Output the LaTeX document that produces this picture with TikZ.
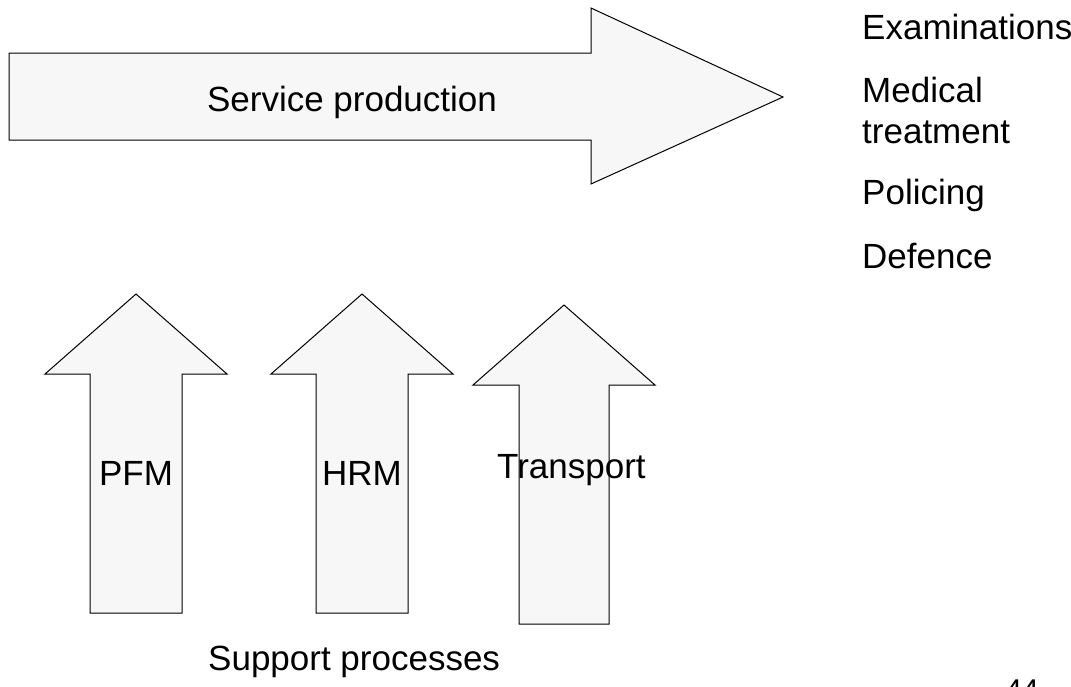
\documentclass[tikz,border=0pt]{standalone}
\usepackage{fontspec}
\setmainfont{Liberation Sans}
\begin{document}
\begin{tikzpicture}[x=1pt,y=-1pt,
  arrowshape/.style={draw=black,fill=gray!6,line width=1pt,line join=miter},
  lbl/.style={inner sep=0pt,font=\fontsize{35}{42}\selectfont},
  ]
\useasboundingbox (0,0) rectangle (1071,686);
\clip (0,0) rectangle (1071,686);
% big arrow
\draw[arrowshape] (9,53) -- (591,53) -- (591,8) -- (783,97) -- (591,184) -- (591,140) -- (9,140) -- cycle;
\node[lbl,anchor=base] (sp) at (352,111) {Service production};
% up arrows
\draw[arrowshape] (90,613) -- (90,374) -- (45,374) -- (136,294) -- (227,374) -- (182,374) -- (182,613) -- cycle;
\draw[arrowshape] (316,613) -- (316,374) -- (271,374) -- (362,294) -- (453,374) -- (408,374) -- (408,613) -- cycle;
\draw[arrowshape] (519,624) -- (519,385) -- (473,385) -- (564,305) -- (655,385) -- (609,385) -- (609,624) -- cycle;
\node[lbl,anchor=base] (pfm) at (136,485) {PFM};
\node[lbl,anchor=base] (hrm) at (362,485) {HRM};
\node[lbl,anchor=base west] (tr) at (497,478) {Transport};
\node[lbl,anchor=base west] (sup) at (208,670) {Support processes};
% right list
\node[lbl,anchor=base west] (ex) at (862,39) {Examinations};
\node[lbl,anchor=base west] (med) at (862,102) {Medical};
\node[lbl,anchor=base west] (tre) at (862,143) {treatment};
\node[lbl,anchor=base west] (pol) at (862,204) {Policing};
\node[lbl,anchor=base west] (def) at (862,268) {Defence};
\node[inner sep=0pt,font=\fontsize{30}{36}\selectfont,anchor=base] (num) at (1022,700) {44};
\end{tikzpicture}
\end{document}
